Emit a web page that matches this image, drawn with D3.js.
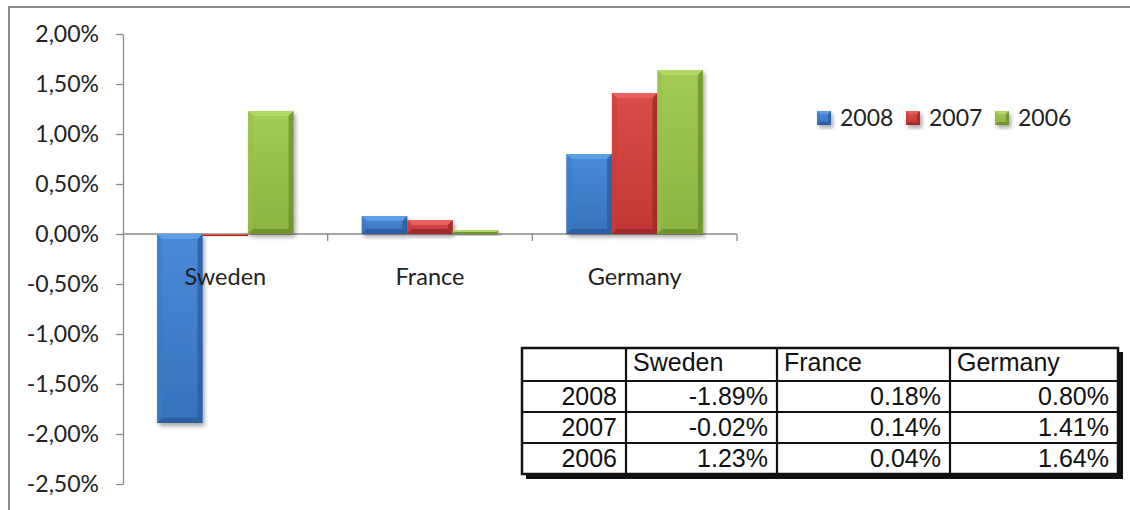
<!DOCTYPE html>
<html>
<head>
<meta charset="utf-8">
<script src="https://cdn.jsdelivr.net/npm/d3@7"></script>
<style>
  body { margin: 0; background: #fff; }
  svg { display: block; }
</style>
</head>
<body>
<div id="chart"></div>
<script>
// data
const countries = ["Sweden", "France", "Germany"];
const years = ["2008", "2007", "2006"];
const values2008 = [-1.89, 0.18, 0.80];
const values2007 = [-0.02, 0.14, 1.41];
const values2006 = [1.23, 0.04, 1.64];
const yTicks = [-2.5, -2, -1.5, -1, -0.5, 0, 0.5, 1, 1.5, 2];

const seriesValues = [values2008, values2007, values2006];
const palette = [
  { base: "#3a79c9", light: "#5e9fe6", dark: "#2b5b9c" },
  { base: "#cd3b38", light: "#e8625f", dark: "#9a2927" },
  { base: "#95c047", light: "#b3d968", dark: "#6c8c2d" }
];

const width = 1130, height = 510;
const axisFont = "Lato, 'Open Sans', sans-serif";
const tableFont = "'Liberation Sans', Arial, sans-serif";

const svg = d3.select("#chart").append("svg")
  .attr("width", width)
  .attr("height", height);

const defs = svg.append("defs");

// soft shadow under the bars
const shadow = defs.append("filter")
  .attr("id", "shadow")
  .attr("x", "-30%").attr("y", "-30%")
  .attr("width", "160%").attr("height", "160%");
shadow.append("feGaussianBlur").attr("in", "SourceAlpha").attr("stdDeviation", 2.2).attr("result", "blur");
shadow.append("feOffset").attr("dx", 2).attr("dy", 3).attr("result", "off");
shadow.append("feComponentTransfer").attr("result", "soft")
  .append("feFuncA").attr("type", "linear").attr("slope", 0.35);
const merge = shadow.append("feMerge");
merge.append("feMergeNode").attr("in", "soft");
merge.append("feMergeNode").attr("in", "SourceGraphic");

palette.forEach((c, i) => {
  const g = defs.append("linearGradient")
    .attr("id", "grad" + i)
    .attr("x1", 0).attr("y1", 0).attr("x2", 0).attr("y2", 1);
  g.append("stop").attr("offset", "0%").attr("stop-color", d3.interpolateRgb(c.base, c.light)(0.45));
  g.append("stop").attr("offset", "100%").attr("stop-color", d3.interpolateRgb(c.base, c.dark)(0.25));
});

// outer frame (runs off the right and bottom of the picture)
svg.append("rect")
  .attr("x", 9).attr("y", 7)
  .attr("width", 1140).attr("height", 520)
  .attr("fill", "none")
  .attr("stroke", "#8c8c8c")
  .attr("stroke-width", 2);

const plot = { left: 123, right: 737, top: 34, bottom: 484 };

const y = d3.scaleLinear()
  .domain([-2.5, 2])
  .range([plot.bottom, plot.top]);

const x = d3.scaleBand()
  .domain(countries)
  .range([plot.left, plot.right])
  .paddingInner(1 / 3)
  .paddingOuter(1 / 6);

const xInner = d3.scaleBand()
  .domain(years)
  .range([0, x.bandwidth()]);

const commaLocale = d3.formatLocale({ decimal: ",", thousands: ".", grouping: [3], currency: ["", ""], minus: "-" });
const dotLocale = d3.formatLocale({ decimal: ".", thousands: ",", grouping: [3], currency: ["", ""], minus: "-" });
const fmtAxis = v => commaLocale.format(".2f")(v) + "%";
const fmtTable = v => dotLocale.format(".2f")(v) + "%";

// y axis
const yAxis = svg.append("g")
  .attr("transform", `translate(${plot.left},0)`)
  .call(d3.axisLeft(y).tickValues(yTicks).tickSize(7).tickSizeOuter(0).tickPadding(17).tickFormat(fmtAxis));
yAxis.selectAll("path, line").attr("stroke", "#8a8a8a").attr("stroke-width", 1.3);
yAxis.selectAll("text")
  .attr("font-family", axisFont)
  .attr("font-size", 23)
  .attr("fill", "#222");

// x axis line at zero with ticks between categories
const step = x.step();
const xAxis = svg.append("g");
xAxis.append("line")
  .attr("x1", plot.left).attr("x2", plot.right)
  .attr("y1", y(0)).attr("y2", y(0))
  .attr("stroke", "#8a8a8a").attr("stroke-width", 1.3);
xAxis.selectAll("line.tick")
  .data(countries)
  .join("line")
  .attr("class", "tick")
  .attr("x1", d => x(d) - x.paddingInner() * step / 2 + step)
  .attr("x2", d => x(d) - x.paddingInner() * step / 2 + step)
  .attr("y1", y(0)).attr("y2", y(0) + 7)
  .attr("stroke", "#8a8a8a").attr("stroke-width", 1.3);

// bars with a bevelled look
function bevelBar(g, bx, by, bw, bh, i, b) {
  const c = palette[i];
  const grp = g.append("g");
  grp.append("rect")
    .attr("x", bx).attr("y", by)
    .attr("width", bw).attr("height", Math.max(bh, 0.5))
    .attr("fill", `url(#grad${i})`)
    .attr("filter", "url(#shadow)");
  const e = Math.min(b, bh / 2, bw / 2);
  if (e < 0.8) return;
  const pt = p => p.map(q => q.join(",")).join(" ");
  grp.append("polygon")
    .attr("points", pt([[bx, by], [bx + bw, by], [bx + bw - e, by + e], [bx + e, by + e]]))
    .attr("fill", c.light).attr("opacity", 0.95);
  grp.append("polygon")
    .attr("points", pt([[bx, by], [bx + e, by + e], [bx + e, by + bh - e], [bx, by + bh]]))
    .attr("fill", c.base).attr("opacity", 0.6);
  grp.append("polygon")
    .attr("points", pt([[bx + bw, by], [bx + bw, by + bh], [bx + bw - e, by + bh - e], [bx + bw - e, by + e]]))
    .attr("fill", c.dark).attr("opacity", 0.75);
  grp.append("polygon")
    .attr("points", pt([[bx, by + bh], [bx + e, by + bh - e], [bx + bw - e, by + bh - e], [bx + bw, by + bh]]))
    .attr("fill", c.dark).attr("opacity", 0.85);
}

const bars = svg.append("g");
years.forEach((yr, i) => {
  seriesValues[i].forEach((v, k) => {
    const bx = x(countries[k]) + xInner(yr);
    const top = y(Math.max(0, v));
    const bh = Math.abs(y(v) - y(0));
    bevelBar(bars, bx, top, xInner.bandwidth(), bh, i, 5);
  });
});

// category labels
svg.append("g").selectAll("text")
  .data(countries)
  .join("text")
  .attr("x", d => x(d) + x.bandwidth() / 2)
  .attr("y", y(0) + 51)
  .attr("text-anchor", "middle")
  .attr("font-family", axisFont)
  .attr("font-size", 23.5)
  .attr("fill", "#222")
  .text(d => d);

// legend
const legend = svg.append("g");
years.forEach((yr, i) => {
  const lx = 817 + i * 89;
  bevelBar(legend, lx, 111, 14, 14, i, 3);
  legend.append("text")
    .attr("x", lx + 23).attr("y", 126)
    .attr("font-family", axisFont)
    .attr("font-size", 23)
    .attr("fill", "#222")
    .text(yr);
});

// data table
const colEdges = [522, 626, 777, 950, 1118];
const rowEdges = [348, 381, 412, 443, 474];
const table = svg.append("g");

table.append("rect")
  .attr("x", colEdges[0] + 4).attr("y", rowEdges[0] + 4)
  .attr("width", colEdges[4] - colEdges[0] + 1).attr("height", rowEdges[4] - rowEdges[0] + 1)
  .attr("fill", "#111");
table.append("rect")
  .attr("x", colEdges[0]).attr("y", rowEdges[0])
  .attr("width", colEdges[4] - colEdges[0]).attr("height", rowEdges[4] - rowEdges[0])
  .attr("fill", "#fff")
  .attr("stroke", "#111").attr("stroke-width", 2.5);
colEdges.slice(1, -1).forEach(cx => {
  table.append("line")
    .attr("x1", cx).attr("x2", cx).attr("y1", rowEdges[0]).attr("y2", rowEdges[4])
    .attr("stroke", "#111").attr("stroke-width", 2.2);
});
rowEdges.slice(1, -1).forEach(ry => {
  table.append("line")
    .attr("x1", colEdges[0]).attr("x2", colEdges[4]).attr("y1", ry).attr("y2", ry)
    .attr("stroke", "#111").attr("stroke-width", 2.2);
});

const cellText = (tx, ty, s, anchor) => table.append("text")
  .attr("x", tx).attr("y", ty)
  .attr("text-anchor", anchor)
  .attr("font-family", tableFont)
  .attr("font-size", 25)
  .attr("fill", "#111")
  .text(s);

countries.forEach((c, k) => cellText(colEdges[k + 1] + 7, rowEdges[0] + 23, c, "start"));
years.forEach((yr, i) => {
  const ty = rowEdges[i + 1] + 24;
  cellText(colEdges[1] - 9, ty, yr, "end");
  seriesValues[i].forEach((v, k) => cellText(colEdges[k + 2] - 9, ty, fmtTable(v), "end"));
});
</script>
</body>
</html>
